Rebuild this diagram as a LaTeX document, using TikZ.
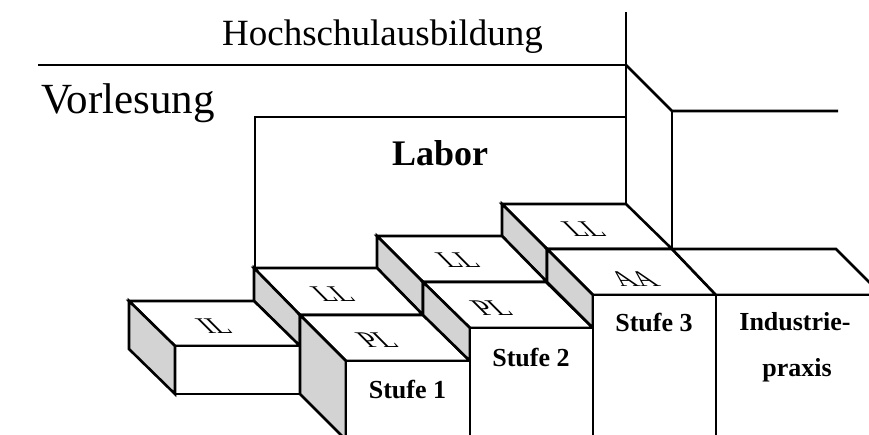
\documentclass[tikz,border=0pt]{standalone}
\usepackage{fontspec}
\setmainfont{Liberation Serif}
\definecolor{sidegray}{RGB}{211,211,211}
\begin{document}
\begin{tikzpicture}[x=1pt, y=-1pt, line width=2.6pt, line join=miter,
  face/.style={draw=black, fill=white},
  side/.style={draw=black, fill=sidegray},
  frameline/.style={draw=black},
  toplabel/.style={font=\fontsize{28}{28}\selectfont, inner sep=0pt,
    cm={1,0,-0.8,0.8,(0,0)}},
  stagelabel/.style={font=\bfseries\fontsize{26}{28}\selectfont, anchor=base, inner sep=0pt}]
\useasboundingbox (0,0) rectangle (869,434);
\clip (0,0) rectangle (869,434);

% back row: LL blocks
\path[face] (502,204) -- (626,204) -- (672,249) -- (547,249) -- cycle;
\path[side] (502,204) -- (547,249) -- (547,282) -- (502,236) -- cycle;
\path[face] (377,236) -- (502,236) -- (547,282) -- (423,282) -- cycle;
\path[side] (377,236) -- (423,282) -- (423,315) -- (377,268) -- cycle;
\path[face] (254,268) -- (377,268) -- (423,315) -- (300,315) -- cycle;
\path[side] (254,268) -- (300,315) -- (300,346) -- (254,301) -- cycle;

% IL block
\path[face] (129,301) -- (254,301) -- (300,346) -- (175,346) -- cycle;
\path[face] (175,346) -- (300,346) -- (300,394) -- (175,394) -- cycle;
\path[side] (129,301) -- (175,346) -- (175,394) -- (129,349) -- cycle;

% front row: PL blocks, AA block, industry block
\path[face] (300,315) -- (423,315) -- (470,361) -- (346,361) -- cycle;
\path[side] (300,315) -- (346,361) -- (346,440) -- (300,394) -- cycle;
\path[face] (346,361) -- (470,361) -- (470,445) -- (346,445) -- cycle;

\path[face] (423,282) -- (546,282) -- (593,328) -- (470,328) -- cycle;
\path[side] (423,282) -- (470,328) -- (470,361) -- (423,315) -- cycle;
\path[face] (470,328) -- (593,328) -- (593,445) -- (470,445) -- cycle;

\path[face] (547,249) -- (672,249) -- (716,295) -- (593,295) -- cycle;
\path[side] (547,249) -- (593,295) -- (593,328) -- (547,282) -- cycle;
\path[face] (593,295) -- (716,295) -- (716,445) -- (593,445) -- cycle;

\path[face] (672,249) -- (836,249) -- (882,295) -- (716,295) -- cycle;
\path[face] (716,295) -- (882,295) -- (882,445) -- (716,445) -- cycle;

% frame of the education levels
\path[frameline] (38,65) -- (626,65);
\path[frameline] (626,12) -- (626,204);
\path[frameline] (626,65) -- (672,111) -- (838,111);
\path[frameline] (672,111) -- (672,249);
\path[frameline] (626,117) -- (255,117) -- (255,268);

% texts
\node[anchor=base, font=\fontsize{37}{40}\selectfont] (hochschule) at (382.5,45) {Hochschulausbildung};
\node[anchor=base west, inner sep=0pt, font=\fontsize{43}{46}\selectfont] (vorlesung) at (40,113) {Vorlesung};
\node[anchor=base, font=\bfseries\fontsize{36}{40}\selectfont] (labor) at (440,165) {Labor};

\node[toplabel] (il) at (214,326) {IL};
\node[toplabel] (ll1) at (333,294) {LL};
\node[toplabel] (pl1) at (377,340) {PL};
\node[toplabel] (ll2) at (458,260) {LL};
\node[toplabel] (pl2) at (491.5,308) {PL};
\node[toplabel] (ll3) at (584,229) {LL};
\node[toplabel] (aa) at (634,279) {AA};

\node[stagelabel] (stufe1) at (407.5,398) {Stufe 1};
\node[stagelabel] (stufe2) at (531,366) {Stufe 2};
\node[stagelabel] (stufe3) at (654,331) {Stufe 3};
\node[stagelabel] (ind1) at (795,330) {Industrie-};
\node[stagelabel] (ind2) at (797,376) {praxis};
\end{tikzpicture}
\end{document}
